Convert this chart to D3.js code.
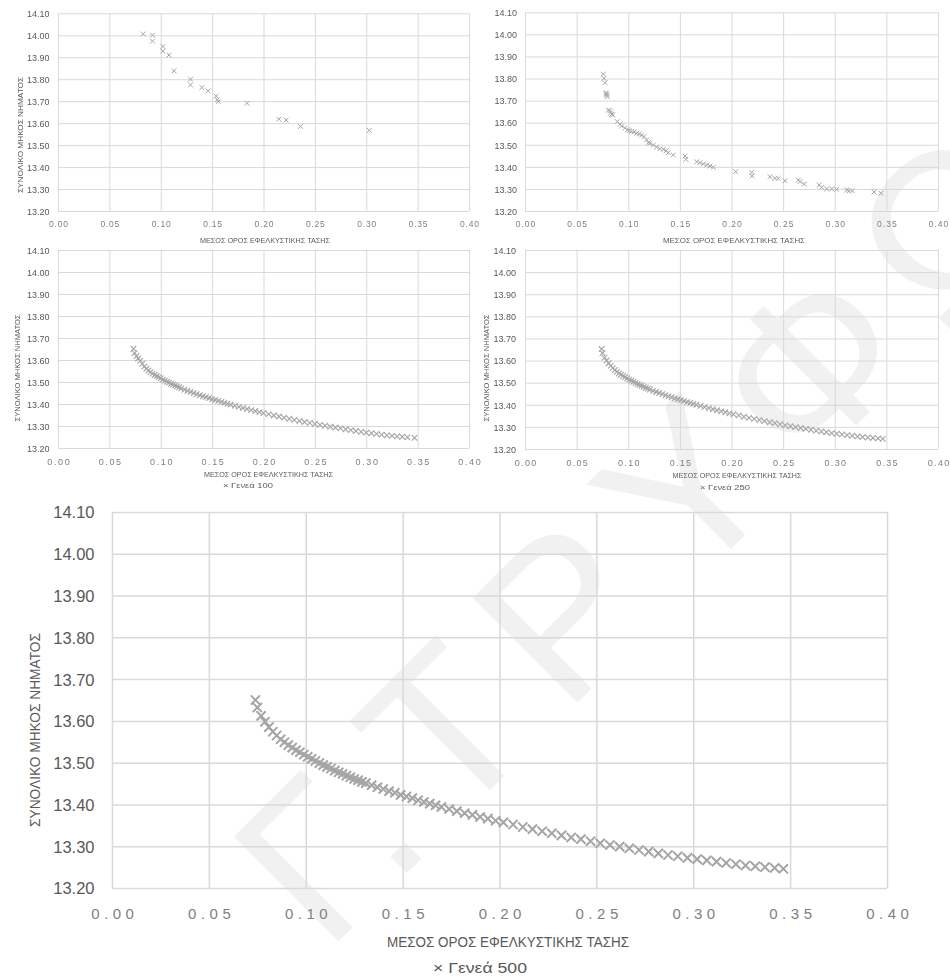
<!DOCTYPE html>
<html>
<head>
<meta charset="utf-8">
<script src="https://cdn.jsdelivr.net/npm/d3@7"></script>
<style>
  body { margin: 0; background: #fff; }
  svg { display: block; }
  text { font-family: "Liberation Sans", Arial, sans-serif; }
</style>
</head>
<body>
<svg id="fig" width="950" height="979"></svg>
<script>
// ---- axis ticks ----
const xTicks = [0.00, 0.05, 0.10, 0.15, 0.20, 0.25, 0.30, 0.35, 0.40];
const yTicks = [13.20, 13.30, 13.40, 13.50, 13.60, 13.70, 13.80, 13.90, 14.00, 14.10];

// ---- text ----
const xTitleText = "ΜΕΣΟΣ ΟΡΟΣ ΕΦΕΛΚΥΣΤΙΚΗΣ ΤΑΣΗΣ";
const yTitleText = "ΣΥΝΟΛΙΚΟ ΜΗΚΟΣ ΝΗΜΑΤΟΣ";
const legendLabels = ["Γενεά 100", "Γενεά 250", "Γενεά 500"];
const watermarkParts = ["Γ.", "ΤΡΥΦΩΝ"];

// ---- series: [mean tensile stress, total wire length] ----
const seriesTopLeft = [
  [0.083, 14.006], [0.092, 14.000], [0.092, 13.973], [0.102, 13.949], [0.102, 13.928],
  [0.108, 13.910], [0.113, 13.838], [0.129, 13.800], [0.129, 13.774], [0.140, 13.762],
  [0.146, 13.747], [0.154, 13.723], [0.155, 13.707], [0.156, 13.698], [0.184, 13.690],
  [0.215, 13.618], [0.222, 13.614], [0.236, 13.585], [0.303, 13.567]
];

const seriesTopRight = [
  [0.0759, 13.820], [0.0765, 13.801], [0.0775, 13.781],
  [0.0785, 13.736], [0.0788, 13.730], [0.0791, 13.725], [0.0797, 13.718],
  [0.0807, 13.657], [0.0823, 13.654], [0.0830, 13.645], [0.0840, 13.638], [0.0850, 13.635],
  [0.0894, 13.605], [0.0920, 13.593], [0.0936, 13.585],
  [0.0969, 13.575], [0.0991, 13.567], [0.1010, 13.564], [0.1033, 13.561], [0.1056, 13.558],
  [0.1082, 13.552], [0.1107, 13.549], [0.1130, 13.544], [0.1153, 13.537],
  [0.1178, 13.522], [0.1194, 13.510], [0.1210, 13.507],
  [0.1243, 13.499], [0.1275, 13.489], [0.1308, 13.482], [0.1340, 13.479], [0.1366, 13.473], [0.1388, 13.464],
  [0.1436, 13.454],
  [0.1550, 13.449], [0.1557, 13.434],
  [0.1663, 13.423], [0.1695, 13.419], [0.1727, 13.413], [0.1760, 13.408], [0.1792, 13.404], [0.1824, 13.398],
  [0.2040, 13.378],
  [0.2196, 13.375], [0.2200, 13.359],
  [0.2373, 13.355], [0.2420, 13.348], [0.2453, 13.348], [0.2518, 13.337],
  [0.2647, 13.340], [0.2663, 13.333], [0.2705, 13.322],
  [0.2847, 13.318], [0.2874, 13.307], [0.2922, 13.300], [0.2970, 13.300], [0.3019, 13.298],
  [0.3116, 13.295], [0.3138, 13.291], [0.3170, 13.291],
  [0.3380, 13.286], [0.3448, 13.280]
];

const gen100 = [
  [0.0735, 13.651], [0.0745, 13.631], [0.0765, 13.618], [0.0780, 13.607], [0.0800, 13.596],
  [0.0820, 13.583], [0.0840, 13.570], [0.0860, 13.560], [0.0880, 13.552], [0.0900, 13.545],
  [0.0920, 13.538], [0.0940, 13.532], [0.0960, 13.527], [0.0980, 13.522], [0.1000, 13.517],
  [0.1020, 13.511], [0.1040, 13.506], [0.1060, 13.501], [0.1080, 13.497], [0.1100, 13.492],
  [0.1120, 13.488], [0.1140, 13.484], [0.1160, 13.480], [0.1180, 13.476], [0.1200, 13.471],
  [0.1230, 13.465], [0.1260, 13.460], [0.1290, 13.455], [0.1320, 13.450], [0.1350, 13.445],
  [0.1380, 13.440], [0.1410, 13.435], [0.1440, 13.431], [0.1470, 13.427], [0.1500, 13.422],
  [0.1530, 13.418], [0.1560, 13.414], [0.1590, 13.409], [0.1620, 13.405], [0.1650, 13.401],
  [0.1680, 13.397], [0.1720, 13.392], [0.1760, 13.387], [0.1800, 13.382], [0.1840, 13.377],
  [0.1880, 13.372], [0.1920, 13.368], [0.1960, 13.363], [0.2000, 13.359], [0.2050, 13.354],
  [0.2100, 13.348], [0.2150, 13.343], [0.2200, 13.338], [0.2250, 13.333], [0.2300, 13.328],
  [0.2350, 13.323], [0.2400, 13.318], [0.2450, 13.314], [0.2500, 13.309], [0.2550, 13.305],
  [0.2600, 13.301], [0.2650, 13.297], [0.2700, 13.293], [0.2750, 13.289], [0.2800, 13.285],
  [0.2850, 13.281], [0.2900, 13.277], [0.2950, 13.274], [0.3000, 13.270], [0.3050, 13.267],
  [0.3100, 13.264], [0.3150, 13.261], [0.3200, 13.258], [0.3250, 13.255], [0.3300, 13.253],
  [0.3350, 13.251], [0.3400, 13.249], [0.3470, 13.246]
];

const gen250 = [
  [0.0742, 13.652], [0.0750, 13.634], [0.0770, 13.613], [0.0790, 13.600], [0.0810, 13.588],
  [0.0830, 13.576], [0.0850, 13.566], [0.0870, 13.557], [0.0890, 13.549], [0.0910, 13.542],
  [0.0930, 13.536], [0.0950, 13.530], [0.0970, 13.525], [0.0990, 13.519], [0.1010, 13.514],
  [0.1030, 13.509], [0.1050, 13.504], [0.1070, 13.499], [0.1090, 13.494], [0.1110, 13.490],
  [0.1130, 13.486], [0.1150, 13.481], [0.1170, 13.477], [0.1190, 13.473], [0.1210, 13.469],
  [0.1240, 13.463], [0.1270, 13.458], [0.1300, 13.453], [0.1330, 13.448], [0.1360, 13.443],
  [0.1390, 13.438], [0.1420, 13.434], [0.1450, 13.429], [0.1480, 13.425], [0.1510, 13.421],
  [0.1540, 13.417], [0.1570, 13.412], [0.1600, 13.408], [0.1630, 13.404], [0.1660, 13.400],
  [0.1700, 13.395], [0.1740, 13.390], [0.1780, 13.385], [0.1820, 13.380], [0.1860, 13.375],
  [0.1900, 13.370], [0.1940, 13.366], [0.1980, 13.361], [0.2020, 13.357], [0.2070, 13.352],
  [0.2120, 13.346], [0.2170, 13.341], [0.2220, 13.336], [0.2270, 13.331], [0.2320, 13.326],
  [0.2370, 13.321], [0.2420, 13.317], [0.2470, 13.312], [0.2520, 13.307], [0.2570, 13.303],
  [0.2620, 13.299], [0.2670, 13.295], [0.2720, 13.291], [0.2770, 13.287], [0.2820, 13.283],
  [0.2870, 13.279], [0.2920, 13.276], [0.2970, 13.272], [0.3020, 13.269], [0.3070, 13.266],
  [0.3120, 13.263], [0.3170, 13.260], [0.3220, 13.257], [0.3270, 13.254], [0.3320, 13.252],
  [0.3370, 13.250], [0.3420, 13.248], [0.3465, 13.246]
];

const gen500 = [
  [0.0740, 13.650], [0.0750, 13.632], [0.0770, 13.612], [0.0790, 13.598], [0.0810, 13.585],
  [0.0830, 13.574], [0.0850, 13.565], [0.0870, 13.556], [0.0890, 13.549], [0.0910, 13.542],
  [0.0930, 13.536], [0.0950, 13.530], [0.0970, 13.525], [0.0990, 13.519], [0.1010, 13.514],
  [0.1030, 13.509], [0.1050, 13.504], [0.1070, 13.499], [0.1090, 13.494], [0.1110, 13.490],
  [0.1130, 13.486], [0.1150, 13.481], [0.1170, 13.477], [0.1190, 13.473], [0.1210, 13.469],
  [0.1230, 13.465], [0.1250, 13.461], [0.1270, 13.458], [0.1290, 13.454], [0.1310, 13.451],
  [0.1340, 13.446], [0.1370, 13.441], [0.1400, 13.437], [0.1430, 13.432], [0.1460, 13.428],
  [0.1490, 13.423], [0.1520, 13.419], [0.1550, 13.415], [0.1580, 13.410], [0.1610, 13.406],
  [0.1640, 13.402], [0.1670, 13.398], [0.1700, 13.394], [0.1740, 13.389], [0.1780, 13.384],
  [0.1820, 13.379], [0.1860, 13.375], [0.1900, 13.370], [0.1940, 13.366], [0.1980, 13.361],
  [0.2020, 13.357], [0.2070, 13.352], [0.2120, 13.346], [0.2170, 13.341], [0.2220, 13.336],
  [0.2270, 13.331], [0.2320, 13.326], [0.2370, 13.321], [0.2420, 13.317], [0.2470, 13.312],
  [0.2520, 13.307], [0.2570, 13.303], [0.2620, 13.299], [0.2670, 13.295], [0.2720, 13.291],
  [0.2770, 13.287], [0.2820, 13.283], [0.2870, 13.279], [0.2920, 13.276], [0.2970, 13.272],
  [0.3020, 13.269], [0.3070, 13.266], [0.3120, 13.263], [0.3170, 13.260], [0.3220, 13.257],
  [0.3270, 13.254], [0.3320, 13.252], [0.3370, 13.250], [0.3420, 13.248], [0.3465, 13.246]
];

// ---- panel layout ----
const panels = [
  { data: seriesTopLeft, plot: { l: 58, r: 469, t: 13.3, b: 211 },
    yLab: { right: 49.5, size: 9 }, xLab: { y: 226.5, size: 8.5, ls: 0.8 },
    xTitle: { x: 265, y: 242.5, size: 7, len: 130 },
    yTitle: { x: 22.5, y: 135, size: 7, len: 116 },
    legend: null, mark: { r: 2.4, w: 1 }, grid: 1, soft: true },
  { data: seriesTopRight, plot: { l: 525, r: 938, t: 12.3, b: 211 },
    yLab: { right: 517, size: 9 }, xLab: { y: 226.5, size: 8.5, ls: 1.0 },
    xTitle: { x: 734, y: 242.5, size: 7, len: 142 },
    yTitle: null,
    legend: null, mark: { r: 2.4, w: 1 }, grid: 1, soft: true },
  { data: gen100, plot: { l: 58, r: 469, t: 250, b: 448 },
    yLab: { right: 49.5, size: 9 }, xLab: { y: 465, size: 9, ls: 1.6 },
    xTitle: { x: 268.5, y: 476.5, size: 7, len: 129 },
    yTitle: { x: 19.5, y: 368, size: 7, len: 107 },
    legend: { x: 248, y: 487.5, size: 7, len: 50, label: legendLabels[0] },
    mark: { r: 2.8, w: 1.1 }, grid: 1, soft: true },
  { data: gen250, plot: { l: 525, r: 938, t: 250, b: 449 },
    yLab: { right: 516, size: 9 }, xLab: { y: 466, size: 9, ls: 1.3 },
    xTitle: { x: 737, y: 477.5, size: 7, len: 129 },
    yTitle: { x: 488.5, y: 368, size: 7, len: 107 },
    legend: { x: 725, y: 489.5, size: 7, len: 50, label: legendLabels[1] },
    mark: { r: 2.8, w: 1.1 }, grid: 1, soft: true },
  { data: gen500, plot: { l: 112, r: 887, t: 512, b: 888 },
    yLab: { right: 94.5, size: 16.5 }, xLab: { y: 918.5, size: 15, ls: 4.5 },
    xTitle: { x: 508, y: 947, size: 15, len: 242 },
    yTitle: { x: 39.5, y: 730, size: 15, len: 194 },
    legend: { x: 480, y: 973, size: 15, len: 94, label: legendLabels[2] },
    mark: { r: 4.6, w: 2 }, grid: 1.5, soft: false }
];

const svg = d3.select("#fig");
svg.append("rect").attr("width", 950).attr("height", 979).attr("fill", "#fff");

// soft focus for the small panels
const defs = svg.append("defs");
defs.append("filter").attr("id", "soft")
  .attr("x", "-5%").attr("y", "-5%").attr("width", "110%").attr("height", "110%")
  .append("feGaussianBlur").attr("stdDeviation", 0.45);

// faint diagonal watermark behind everything
const wm = svg.append("text")
  .attr("transform", "translate(326,954) rotate(-45)")
  .attr("font-size", 215)
  .attr("fill", "#f1f1f1");
wm.append("tspan").text(watermarkParts[0]);
wm.append("tspan").attr("dx", 22).attr("letter-spacing", 30).text(watermarkParts[1]);

const fmt2 = d3.format(".2f");

panels.forEach(p => {
  const g = svg.append("g");
  if (p.soft) g.attr("filter", "url(#soft)");

  const x = d3.scaleLinear().domain([0, 0.40]).range([p.plot.l, p.plot.r]);
  const y = d3.scaleLinear().domain([13.20, 14.10]).range([p.plot.b, p.plot.t]);
  const w = p.plot.r - p.plot.l, h = p.plot.b - p.plot.t;

  // gridlines
  const gy = g.append("g").attr("transform", `translate(${p.plot.l},0)`)
    .call(d3.axisLeft(y).tickValues(yTicks).tickSize(-w).tickFormat(""));
  const gx = g.append("g").attr("transform", `translate(0,${p.plot.b})`)
    .call(d3.axisBottom(x).tickValues(xTicks).tickSize(-h).tickFormat(""));
  [gy, gx].forEach(a => {
    a.select(".domain").remove();
    a.selectAll(".tick line").attr("stroke", "#d9d9d9").attr("stroke-width", p.grid);
  });

  // y tick labels
  const yl = g.append("g").attr("transform", `translate(${p.yLab.right},0)`)
    .call(d3.axisLeft(y).tickValues(yTicks).tickSize(0).tickPadding(0).tickFormat(fmt2));
  yl.select(".domain").remove();
  yl.selectAll("text")
    .attr("font-size", p.yLab.size).attr("fill", "#595959")
    .attr("font-family", "Liberation Sans, Arial, sans-serif")
    .attr("dy", "0.36em").attr("x", 0);

  // x tick labels
  const xl = g.append("g").attr("transform", `translate(0,${p.xLab.y})`)
    .call(d3.axisBottom(x).tickValues(xTicks).tickSize(0).tickPadding(0).tickFormat(fmt2));
  xl.select(".domain").remove();
  xl.selectAll("text")
    .attr("font-size", p.xLab.size).attr("fill", "#7f7f7f")
    .attr("font-family", "Liberation Sans, Arial, sans-serif")
    .attr("letter-spacing", p.xLab.ls)
    .attr("y", 0).attr("dy", 0).attr("dx", p.xLab.ls / 2);

  // axis titles
  g.append("text")
    .attr("x", p.xTitle.x).attr("y", p.xTitle.y)
    .attr("text-anchor", "middle").attr("font-size", p.xTitle.size)
    .attr("fill", "#595959")
    .attr("textLength", p.xTitle.len).attr("lengthAdjust", "spacingAndGlyphs")
    .text(xTitleText);
  if (p.yTitle) {
    g.append("text")
      .attr("transform", `translate(${p.yTitle.x},${p.yTitle.y}) rotate(-90)`)
      .attr("text-anchor", "middle").attr("font-size", p.yTitle.size)
      .attr("fill", "#595959")
      .attr("textLength", p.yTitle.len).attr("lengthAdjust", "spacingAndGlyphs")
      .text(yTitleText);
  }

  // markers
  const r = p.mark.r;
  g.append("g").selectAll("path").data(p.data).join("path")
    .attr("transform", d => `translate(${x(d[0])},${y(d[1])})`)
    .attr("d", `M${-r},${-r}L${r},${r}M${-r},${r}L${r},${-r}`)
    .attr("fill", "none").attr("stroke", "#a5a5a5").attr("stroke-width", p.mark.w);

  // legend
  if (p.legend) {
    g.append("text")
      .attr("x", p.legend.x).attr("y", p.legend.y)
      .attr("text-anchor", "middle").attr("font-size", p.legend.size)
      .attr("fill", "#595959")
      .attr("textLength", p.legend.len).attr("lengthAdjust", "spacingAndGlyphs")
      .text("× " + p.legend.label);
  }
});
</script>
</body>
</html>
